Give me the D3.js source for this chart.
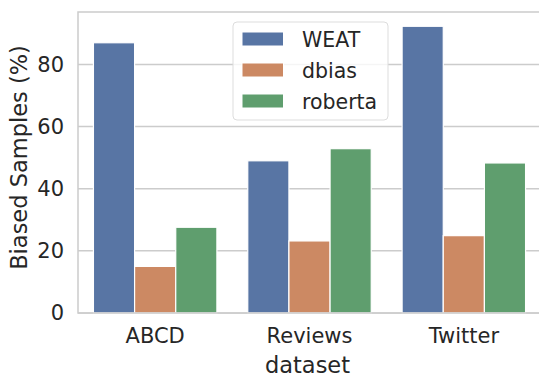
<!DOCTYPE html>
<html>
<head>
<meta charset="utf-8">
<script src="https://cdn.jsdelivr.net/npm/d3@7"></script>
<style>
  body { margin: 0; background: #fff; overflow: hidden; }
  svg { display: block; font-family: "DejaVu Sans", sans-serif; }
</style>
</head>
<body>
<svg id="chart" width="539" height="373"></svg>
<script>
const datasets = ['ABCD', 'Reviews', 'Twitter'];
const methods = ['WEAT', 'dbias', 'roberta'];
const weat = [87, 49, 92.3];
const dbias = [15, 23.2, 24.9];
const roberta = [27.6, 52.9, 48.3];
const yTicks = [0, 20, 40, 60, 80];
const colors = ['#5875a4', '#cc8963', '#5f9e6e'];

const values = [weat, dbias, roberta];

const svg = d3.select('#chart');
// the axes run a little past the right edge of the picture, as in the original
const margin = { top: 12, right: -2, bottom: 60, left: 78 };
const width = 539, height = 373;
const innerWidth = width - margin.left - margin.right;
const innerHeight = height - margin.top - margin.bottom;

const g = svg.append('g')
    .attr('transform', 'translate(' + margin.left + ',' + margin.top + ')');

const xScale = d3.scaleBand()
    .domain(datasets)
    .range([0, innerWidth]);

const hueScale = d3.scaleBand()
    .domain(methods)
    .range([xScale.bandwidth() * 0.1, xScale.bandwidth() * 0.9]);

const yScale = d3.scaleLinear()
    .domain([0, 96.9])
    .range([innerHeight, 0]);

// grid
g.append('g')
    .selectAll('line')
    .data(yTicks)
    .enter()
    .append('line')
    .attr('x1', 0)
    .attr('x2', innerWidth)
    .attr('y1', d => yScale(d))
    .attr('y2', d => yScale(d))
    .attr('stroke', '#cccccc')
    .attr('stroke-width', 1.5);

// bars
methods.forEach((m, mi) => {
    g.append('g')
        .selectAll('rect')
        .data(values[mi])
        .enter()
        .append('rect')
        .attr('x', (d, i) => xScale(datasets[i]) + hueScale(m))
        .attr('y', d => yScale(d))
        .attr('width', hueScale.bandwidth())
        .attr('height', d => innerHeight - yScale(d))
        .attr('fill', colors[mi])
        .attr('stroke', '#fff')
        .attr('stroke-width', 1.2);
});

// spines
g.append('rect')
    .attr('x', 0).attr('y', 0)
    .attr('width', innerWidth).attr('height', innerHeight)
    .attr('fill', 'none')
    .attr('stroke', '#cccccc')
    .attr('stroke-width', 1.5);

// axes
const yAxis = d3.axisLeft(yScale).tickValues(yTicks).tickSize(0).tickPadding(14);
const yG = g.append('g').call(yAxis);
yG.select('.domain').remove();
yG.selectAll('text').attr('font-size', '21px').attr('fill', '#262626')
    .attr('font-family', '"DejaVu Sans", sans-serif');

const xAxis = d3.axisBottom(xScale).tickSize(0).tickPadding(15);
const xG = g.append('g').attr('transform', 'translate(0,' + innerHeight + ')').call(xAxis);
xG.select('.domain').remove();
xG.selectAll('text').attr('font-size', '21px').attr('fill', '#262626')
    .attr('font-family', '"DejaVu Sans", sans-serif');

// axis labels
g.append('text')
    .attr('transform', 'rotate(-90)')
    .attr('x', -(innerHeight / 2 - 5))
    .attr('y', -51.5)
    .attr('text-anchor', 'middle')
    .attr('font-size', '22.5px')
    .attr('fill', '#262626')
    .text('Biased Samples (%)');

g.append('text')
    .attr('x', (width - margin.left) / 2 - 1)
    .attr('y', innerHeight + 60)
    .attr('text-anchor', 'middle')
    .attr('font-size', '22.5px')
    .attr('fill', '#262626')
    .text('dataset');

// legend
const legend = svg.append('g').attr('transform', 'translate(233,22)');
legend.append('rect')
    .attr('width', 155).attr('height', 98)
    .attr('rx', 4)
    .attr('fill', '#fff').attr('fill-opacity', 0.8)
    .attr('stroke', '#dddddd').attr('stroke-width', 1);
methods.forEach((m, i) => {
    const row = legend.append('g').attr('transform', 'translate(0,' + (17 + i * 31) + ')');
    row.append('rect')
        .attr('x', 9).attr('y', -7)
        .attr('width', 41.5).attr('height', 14)
        .attr('fill', colors[i])
        .attr('stroke', '#fff').attr('stroke-width', 1);
    row.append('text')
        .attr('x', 69).attr('y', 7.5)
        .attr('font-size', '20.5px')
        .attr('fill', '#262626')
        .text(m);
});
</script>
</body>
</html>
